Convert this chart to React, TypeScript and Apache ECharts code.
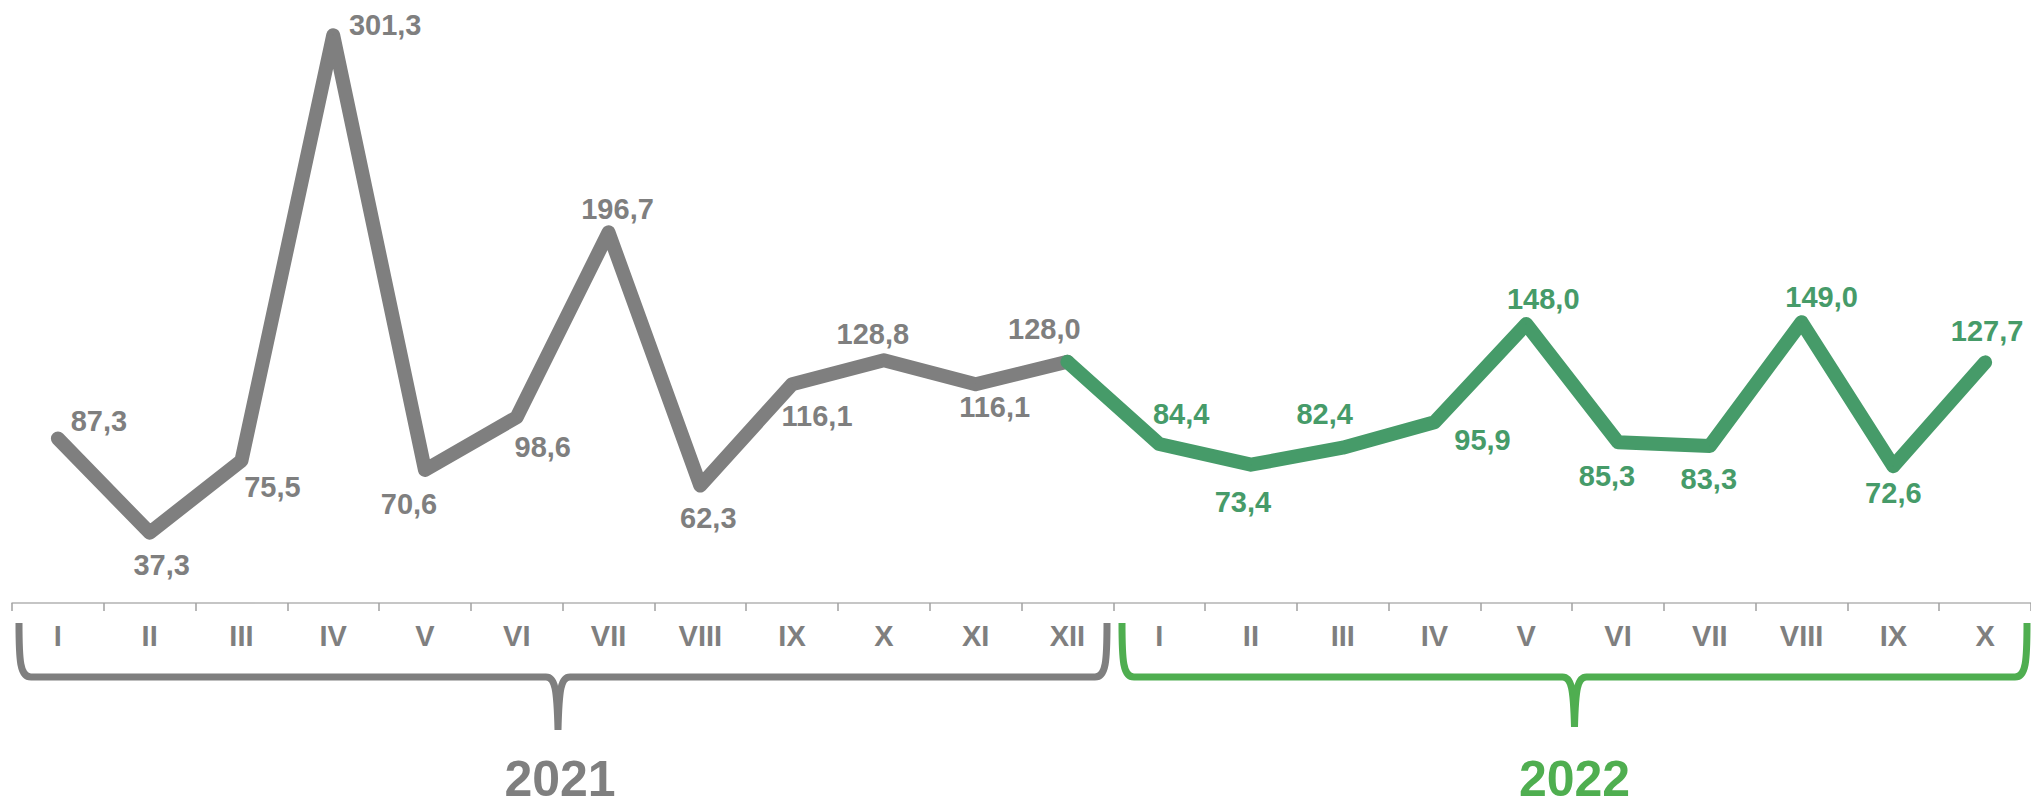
import React, { useEffect, useRef } from "react";
import * as echarts from "echarts";

const months2021 = ["I", "II", "III", "IV", "V", "VI", "VII", "VIII", "IX", "X", "XI", "XII"];
const months2022 = ["I", "II", "III", "IV", "V", "VI", "VII", "VIII", "IX", "X"];
const values2021 = [87.3, 37.3, 75.5, 301.3, 70.6, 98.6, 196.7, 62.3, 116.1, 128.8, 116.1, 128.0];
const values2022 = [84.4, 73.4, 82.4, 95.9, 148.0, 85.3, 83.3, 149.0, 72.6, 127.7];
const years = ["2021", "2022"];

// label offsets (pixels, from each point)
const offsets2021 = [
  [41, -17], [12, 32], [31, 26], [52, -10], [-16, 34], [26, 30],
  [9, -23], [8, 32], [25, 32], [-11, -26], [19, 23], [-23, -33],
];
const offsets2022 = [
  [22, -30], [-8, 37], [-18, -34], [48, 18], [17, -25], [-11, 34],
  [-1, 33], [20, -25], [0, 27], [2, -31],
];

const GRAY = "#7f7f7f";
const GREEN_LINE = "#469b69";
const GREEN_BRIGHT = "#4fae50";
const FONT = "'Liberation Sans', Arial, sans-serif";

const W = 2031;
const H = 806;
const GRID_LEFT = 12;
const CAT_W = 92;
const AXIS_Y = 603;

function bracePath(x0: number, x1: number, tipX: number, top: number, mid: number, bottom: number) {
  return (
    `M${x0},${top} C${x0},${mid - 16} ${x0 + 1},${mid} ${x0 + 12},${mid} ` +
    `L${tipX - 12},${mid} C${tipX - 3},${mid} ${tipX - 1},${mid + 12} ${tipX},${bottom} ` +
    `M${tipX},${bottom} C${tipX + 1},${mid + 12} ${tipX + 3},${mid} ${tipX + 12},${mid} ` +
    `L${x1 - 12},${mid} C${x1 - 1},${mid} ${x1},${mid - 16} ${x1},${top}`
  );
}

const n2021 = months2021.length;
const n2022 = months2022.length;
const grayStart = GRID_LEFT + 7;
const grayEnd = GRID_LEFT + n2021 * CAT_W - 9;
const greenStart = GRID_LEFT + n2021 * CAT_W + 6;
const greenEnd = GRID_LEFT + (n2021 + n2022) * CAT_W - 9;
const grayTip = (grayStart + grayEnd) / 2 - 5;
const greenTip = (greenStart + greenEnd) / 2;

echarts.graphic.registerShape(
  "braceGray",
  echarts.graphic.extendPath(bracePath(grayStart, grayEnd, grayTip, 623, 677, 730), {})
);
echarts.graphic.registerShape(
  "braceGreen",
  echarts.graphic.extendPath(bracePath(greenStart, greenEnd, greenTip, 623, 677, 727), {})
);

const fmt = (v: number) => v.toFixed(1).replace(".", ",");

export default function App() {
  const ref = useRef<HTMLDivElement>(null);

  useEffect(() => {
    if (!ref.current) return;
    const chart = echarts.init(ref.current, null, { renderer: "svg" });

    const categories = [
      ...months2021.map((m) => years[0] + "-" + m),
      ...months2022.map((m) => years[1] + "-" + m),
    ];

    const grayData = values2021.map((v, i) => ({
      value: v,
      label: {
        show: true,
        position: "inside",
        offset: offsets2021[i],
        color: GRAY,
      },
    }));

    const greenData: any[] = [];
    for (let i = 0; i < n2021 - 1; i++) greenData.push(null);
    greenData.push({ value: values2021[n2021 - 1], label: { show: false } });
    values2022.forEach((v, i) =>
      greenData.push({
        value: v,
        label: { show: true, position: "inside", offset: offsets2022[i], color: GREEN_LINE },
      })
    );

    const labelBase = {
      fontFamily: FONT,
      fontWeight: "bold",
      fontSize: 29,
      formatter: (p: any) => fmt(p.value),
    };

    const yearStyle = {
      fontFamily: FONT,
      fontWeight: "bold",
      fontSize: 50,
      lineHeight: 40,
      align: "center",
      verticalAlign: "middle",
      textAlign: "center",
      textVerticalAlign: "middle",
    };

    chart.setOption({
      animation: false,
      backgroundColor: "#ffffff",
      grid: { left: GRID_LEFT, top: AXIS_Y - 603, width: CAT_W * categories.length, height: 603 },
      xAxis: {
        type: "category",
        data: categories,
        boundaryGap: true,
        axisLine: { show: true, lineStyle: { color: "#b3b3b3", width: 1.5 } },
        axisTick: { show: true, length: 8, lineStyle: { color: "#a0a0a0", width: 1.5 } },
        axisLabel: {
          interval: 0,
          margin: 18,
          color: GRAY,
          fontFamily: FONT,
          fontWeight: "bold",
          fontSize: 29,
          formatter: (v: string) => v.split("-")[1],
        },
        splitLine: { show: false },
      },
      yAxis: {
        type: "value",
        min: 0,
        max: 320,
        show: false,
        splitLine: { show: false },
      },
      series: [
        {
          type: "line",
          data: grayData,
          symbol: "circle",
          symbolSize: 1,
          showSymbol: true,
          itemStyle: { color: GRAY },
          lineStyle: { color: GRAY, width: 14, cap: "round", join: "round" },
          label: { ...labelBase, color: GRAY },
          z: 2,
        },
        {
          type: "line",
          data: greenData,
          symbol: "circle",
          symbolSize: 1,
          showSymbol: true,
          connectNulls: false,
          itemStyle: { color: GREEN_LINE },
          lineStyle: { color: GREEN_LINE, width: 14, cap: "round", join: "round" },
          label: { ...labelBase, color: GREEN_LINE },
          z: 3,
        },
      ],
      graphic: [
        {
          type: "braceGray",
          x: 0,
          y: 0,
          silent: true,
          style: { stroke: GRAY, lineWidth: 7, fill: "none", lineCap: "butt", lineJoin: "round" },
        },
        {
          type: "braceGreen",
          x: 0,
          y: 0,
          silent: true,
          style: { stroke: GREEN_BRIGHT, lineWidth: 7, fill: "none", lineCap: "butt", lineJoin: "round" },
        },
        {
          type: "text",
          x: grayTip + 2,
          y: 779,
          silent: true,
          style: { ...yearStyle, text: years[0], fill: GRAY },
        },
        {
          type: "text",
          x: greenTip,
          y: 779,
          silent: true,
          style: { ...yearStyle, text: years[1], fill: GREEN_BRIGHT },
        },
      ],
    });

    return () => chart.dispose();
  }, []);

  return (
    <div
      ref={ref}
      style={{ position: "absolute", left: 0, top: 0, width: W, height: H, background: "#fff" }}
    />
  );
}
